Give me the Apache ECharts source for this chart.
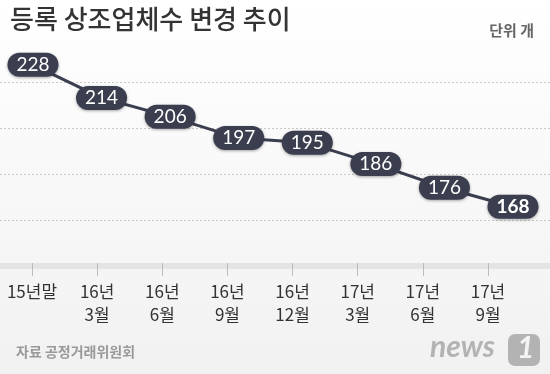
<!DOCTYPE html>
<html><head><meta charset="utf-8">
<script src="https://cdn.jsdelivr.net/npm/echarts@6/dist/echarts.min.js"></script>
<style>html,body{margin:0;padding:0;background:#fff}#c{width:550px;height:374px}</style>
</head><body><div id="c"></div>
<script>
const categories = ['15년말','16년\n3월','16년\n6월','16년\n9월','16년\n12월','17년\n3월','17년\n6월','17년\n9월'];
const values = [228,214,206,197,195,186,176,168];
const gridTicks = [0,1,2,3];

const chart = echarts.init(document.getElementById('c'), null, {renderer:'canvas'});
const dark = '#3b3e4f';
chart.setOption({
  animation:false,
  backgroundColor:{type:'linear',x:0,y:0,x2:0,y2:1,colorStops:[{offset:0,color:'#ffffff'},{offset:1,color:'#f1f1f1'}]},
  title:[
    {text:'등록 상조업체수 변경 추이',left:5,top:1,textStyle:{fontFamily:'Noto Sans CJK KR',fontSize:26,fontWeight:500,color:'#333'}},
    {text:'{b|단위} 개',right:11,top:18,textStyle:{fontFamily:'Noto Sans CJK KR',fontSize:15,color:'#666',rich:{b:{fontFamily:'Noto Sans CJK KR',fontSize:15,fontWeight:'bold',color:'#666'}}}},
    {text:'{b|자료} 공정거래위원회',left:11,top:340,textStyle:{fontFamily:'Noto Sans CJK KR',fontSize:14,color:'#999',rich:{b:{fontFamily:'Noto Sans CJK KR',fontSize:14,fontWeight:'bold',color:'#999'}}}}
  ],
  graphic:[
    {type:'rect',left:0,top:263,shape:{width:550,height:6},style:{fill:'#e4e4e4'},z:0},
    {type:'text',left:430,top:332,style:{text:'news',font:'italic bold 30px Lato',fill:'#b3b3b3'}},
    {type:'rect',left:508,top:334,shape:{width:32,height:32,r:7},style:{fill:'#b3b3b3'}},
    {type:'text',left:517,top:333,style:{text:'1',font:'italic bold 30px Lato',fill:'#f4f4f4'}}
  ],
  grid:[
    {left:33,right:37,top:36.4,bottom:148.4},
    {left:32,right:62,top:200,bottom:111},
    {left:0,right:0,top:82.7,height:137.3}
  ],
  xAxis:[
    {gridIndex:0,type:'category',data:categories,boundaryGap:false,show:false},
    {gridIndex:1,type:'category',data:categories,boundaryGap:false,
      axisLine:{show:false},splitLine:{show:false},
      axisTick:{show:true,length:13,alignWithLabel:true,lineStyle:{color:'#bbb',width:1}},
      axisLabel:{margin:17,fontFamily:'Noto Sans CJK KR',fontSize:17,lineHeight:23,color:'#333',interval:0}},
    {gridIndex:2,type:'value',min:0,max:1,show:false}
  ],
  yAxis:[
    {gridIndex:0,type:'value',min:160,max:240,show:false},
    {gridIndex:1,type:'value',show:false},
    {gridIndex:2,type:'value',min:gridTicks[0],max:gridTicks[gridTicks.length-1],interval:1,
      axisLine:{show:false},axisTick:{show:false},axisLabel:{show:false},
      splitLine:{show:true,lineStyle:{color:'#c8c8c8',type:[2,2],width:1}}}
  ],
  series:[{
    type:'line',xAxisIndex:0,yAxisIndex:0,
    data:values.map((v,i)=> i===values.length-1 ? {value:v,label:{fontWeight:'bold'}} : v),
    symbol:'circle',symbolSize:4,
    lineStyle:{color:dark,width:3},itemStyle:{color:dark},
    label:{show:true,position:'inside',fontFamily:'Lato',fontSize:19,color:'#fff',
      backgroundColor:dark,borderRadius:12,padding:[3,9,2,9],
      shadowColor:'rgba(0,0,0,0.35)',shadowBlur:3,shadowOffsetY:1},
    z:5
  }]
});
</script></body></html>
